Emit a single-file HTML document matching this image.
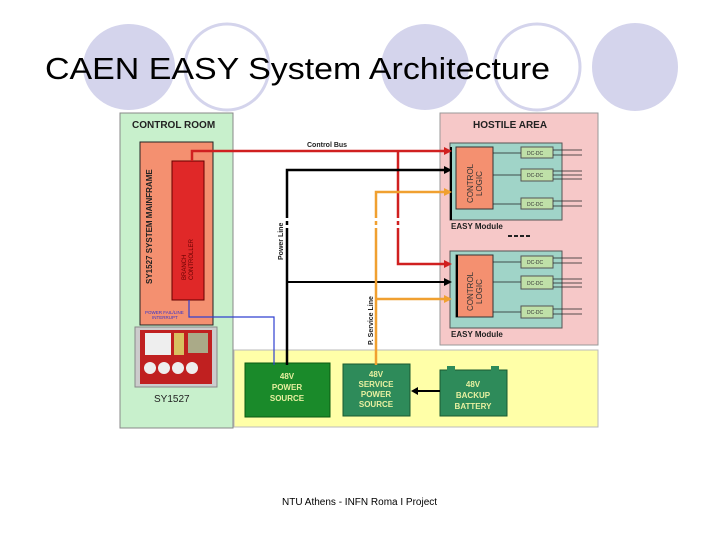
<!DOCTYPE html>
<html><head><style>
body{margin:0;width:720px;height:540px;background:#fff;overflow:hidden}
svg{display:block}
text{font-family:"Liberation Sans",sans-serif}
</style></head><body>
<svg width="720" height="540" viewBox="0 0 720 540" xmlns="http://www.w3.org/2000/svg">
<ellipse cx="129" cy="67" rx="46" ry="43" fill="#d4d4ec"/>
<ellipse cx="227" cy="67" rx="42" ry="43" fill="none" stroke="#d4d4ec" stroke-width="3"/>
<ellipse cx="425" cy="67" rx="44" ry="43" fill="#d4d4ec"/>
<ellipse cx="537" cy="67" rx="43" ry="43" fill="none" stroke="#d4d4ec" stroke-width="3"/>
<ellipse cx="635" cy="67" rx="43" ry="44" fill="#d4d4ec"/>
<text x="45" y="79" font-size="31" fill="#000" textLength="505" lengthAdjust="spacingAndGlyphs">CAEN EASY System Architecture</text>

<!-- control room -->
<rect x="120" y="113" width="113" height="315" fill="#c8f0cc" stroke="#888" stroke-width="1"/>
<text x="132" y="128" font-size="10" font-weight="bold" fill="#222">CONTROL ROOM</text>
<rect x="140" y="142" width="73" height="183" fill="#f49070" stroke="#222" stroke-width="1"/>
<text transform="translate(152,284) rotate(-90)" font-size="8" font-weight="bold" fill="#222">SY1527 SYSTEM MAINFRAME</text>
<rect x="172" y="161" width="32" height="139" fill="#e02828" stroke="#600" stroke-width="1"/>
<text transform="translate(186,280) rotate(-90)" font-size="6" fill="#600">BRANCH</text>
<text transform="translate(193,280) rotate(-90)" font-size="6" fill="#600">CONTROLLER</text>
<text x="145" y="314" font-size="4.5" fill="#33c">POWER FAIL/LINE</text>
<text x="152" y="319" font-size="4.5" fill="#33c">INTERRUPT</text>
<rect x="135" y="327" width="82" height="60" fill="#ccc" stroke="#888"/>
<rect x="140" y="330" width="72" height="54" fill="#c02020"/>
<rect x="145" y="333" width="26" height="22" fill="#eee"/>
<rect x="174" y="333" width="10" height="22" fill="#d8c060"/>
<rect x="188" y="333" width="20" height="20" fill="#aa8"/>
<circle cx="150" cy="368" r="6" fill="#eee"/><circle cx="164" cy="368" r="6" fill="#eee"/>
<circle cx="178" cy="368" r="6" fill="#eee"/><circle cx="192" cy="368" r="6" fill="#eee"/>
<text x="154" y="402" font-size="10" fill="#222">SY1527</text>

<!-- hostile area -->
<rect x="440" y="113" width="158" height="232" fill="#f6c8c8" stroke="#999"/>
<text x="473" y="128" font-size="10" font-weight="bold" fill="#222">HOSTILE AREA</text>
<g>
<rect x="450" y="143" width="112" height="77" fill="#a0d4c8" stroke="#555"/>
<rect x="456" y="147" width="37" height="62" fill="#f49070" stroke="#333"/>
<line x1="451" y1="147" x2="451" y2="220" stroke="#000" stroke-width="2"/>
<text transform="translate(473,203) rotate(-90)" font-size="8" fill="#333">CONTROL</text>
<text transform="translate(482,196) rotate(-90)" font-size="8" fill="#333">LOGIC</text>
<rect x="521" y="147" width="32" height="11" fill="#bfe0a8" stroke="#555"/>
<rect x="521" y="169" width="32" height="12" fill="#bfe0a8" stroke="#555"/>
<rect x="521" y="198" width="32" height="11" fill="#bfe0a8" stroke="#555"/>
<text x="527" y="155" font-size="5" fill="#333">DC-DC</text>
<text x="527" y="177" font-size="5" fill="#333">DC-DC</text>
<text x="527" y="206" font-size="5" fill="#333">DC-DC</text>
<g stroke="#222" stroke-width="0.8">
<line x1="493" y1="153" x2="521" y2="153"/><line x1="493" y1="175" x2="521" y2="175"/><line x1="493" y1="204" x2="521" y2="204"/>
<line x1="553" y1="150" x2="582" y2="150"/><line x1="553" y1="155" x2="582" y2="155"/>
<line x1="553" y1="171" x2="582" y2="171"/><line x1="553" y1="175" x2="582" y2="175"/><line x1="553" y1="179" x2="582" y2="179"/>
<line x1="553" y1="201" x2="582" y2="201"/><line x1="553" y1="206" x2="582" y2="206"/>
</g>
<text x="451" y="229" font-size="8" font-weight="bold" fill="#222">EASY Module</text>
</g>
<g transform="translate(0,108)">
<rect x="450" y="143" width="112" height="77" fill="#a0d4c8" stroke="#555"/>
<rect x="456" y="147" width="37" height="62" fill="#f49070" stroke="#333"/>
<line x1="457" y1="147" x2="457" y2="209" stroke="#000" stroke-width="2"/>
<text transform="translate(473,203) rotate(-90)" font-size="8" fill="#333">CONTROL</text>
<text transform="translate(482,196) rotate(-90)" font-size="8" fill="#333">LOGIC</text>
<rect x="521" y="148" width="32" height="12" fill="#bfe0a8" stroke="#555"/>
<rect x="521" y="168" width="32" height="13" fill="#bfe0a8" stroke="#555"/>
<rect x="521" y="198" width="32" height="12" fill="#bfe0a8" stroke="#555"/>
<text x="527" y="156" font-size="5" fill="#333">DC-DC</text>
<text x="527" y="177" font-size="5" fill="#333">DC-DC</text>
<text x="527" y="206" font-size="5" fill="#333">DC-DC</text>
<g stroke="#222" stroke-width="0.8">
<line x1="493" y1="154" x2="521" y2="154"/><line x1="493" y1="174" x2="521" y2="174"/><line x1="493" y1="204" x2="521" y2="204"/>
<line x1="553" y1="150" x2="582" y2="150"/><line x1="553" y1="155" x2="582" y2="155"/>
<line x1="553" y1="171" x2="582" y2="171"/><line x1="553" y1="175" x2="582" y2="175"/><line x1="553" y1="179" x2="582" y2="179"/>
<line x1="553" y1="201" x2="582" y2="201"/><line x1="553" y1="206" x2="582" y2="206"/>
</g>
<text x="451" y="229" font-size="8" font-weight="bold" fill="#222">EASY Module</text>
</g>
<line x1="508" y1="236" x2="530" y2="236" stroke="#222" stroke-width="2" stroke-dasharray="4,2"/>

<!-- yellow -->
<rect x="234" y="350" width="364" height="77" fill="#ffffa8" stroke="#bbb"/>
<rect x="245" y="363" width="85" height="54" fill="#1a8a2a" stroke="#0a5a10"/>
<text font-size="8" font-weight="bold" fill="#e8f0a0" text-anchor="middle"><tspan x="287" y="379">48V</tspan><tspan x="287" y="390">POWER</tspan><tspan x="287" y="401">SOURCE</tspan></text>
<rect x="343" y="364" width="67" height="52" fill="#2e8b5a" stroke="#1a5a30"/>
<text font-size="8" font-weight="bold" fill="#e8f0a0" text-anchor="middle"><tspan x="376" y="377">48V</tspan><tspan x="376" y="387">SERVICE</tspan><tspan x="376" y="397">POWER</tspan><tspan x="376" y="407">SOURCE</tspan></text>
<rect x="440" y="370" width="67" height="46" fill="#2e8b5a" stroke="#1a5a30"/>
<rect x="447" y="366" width="8" height="5" fill="#2e8b5a"/><rect x="491" y="366" width="8" height="5" fill="#2e8b5a"/>
<text font-size="8" font-weight="bold" fill="#e8f0a0" text-anchor="middle"><tspan x="473" y="387">48V</tspan><tspan x="473" y="398">BACKUP</tspan><tspan x="473" y="409">BATTERY</tspan></text>
<line x1="440" y1="391" x2="416" y2="391" stroke="#000" stroke-width="2"/>
<polygon points="411,391 418,387 418,395" fill="#000"/>

<g fill="none" stroke-width="2.5">
<polyline points="192,161 192,151 445,151" stroke="#d02020"/>
<polyline points="398,151 398,264 445,264" stroke="#d02020"/>
<polyline points="287,365 287,170 445,170" stroke="#000"/>
<polyline points="287,282 445,282" stroke="#000" stroke-width="2"/>
<polyline points="376,365 376,192 445,192" stroke="#f0a030"/>
<polyline points="376,299 445,299" stroke="#f0a030"/>
<polyline points="189,300 189,317 274,317 274,365" stroke="#3040d0" stroke-width="1.2"/>
</g>
<g fill="#fff">
<rect x="285" y="218" width="5" height="3"/><rect x="285" y="225" width="5" height="3"/>
<rect x="374" y="218" width="5" height="3"/><rect x="374" y="225" width="5" height="3"/>
<rect x="396" y="218" width="5" height="3"/><rect x="396" y="225" width="5" height="3"/>
</g>
<polygon points="452,151 444,147 444,155" fill="#d02020"/>
<polygon points="452,264 444,260 444,268" fill="#d02020"/>
<polygon points="452,170 444,166 444,174" fill="#000"/>
<polygon points="452,282 444,278 444,286" fill="#000"/>
<polygon points="452,192 444,188 444,196" fill="#f0a030"/>
<polygon points="452,299 444,295 444,303" fill="#f0a030"/>
<text x="307" y="147" font-size="7" font-weight="bold" fill="#222">Control Bus</text>
<text transform="translate(283,260) rotate(-90)" font-size="7" font-weight="bold" fill="#222">Power Line</text>
<text transform="translate(373,345) rotate(-90)" font-size="7" font-weight="bold" fill="#222">P. Service Line</text>

<text x="282" y="505" font-size="10" fill="#000">NTU Athens - INFN Roma I Project</text>
</svg>
</body></html>
